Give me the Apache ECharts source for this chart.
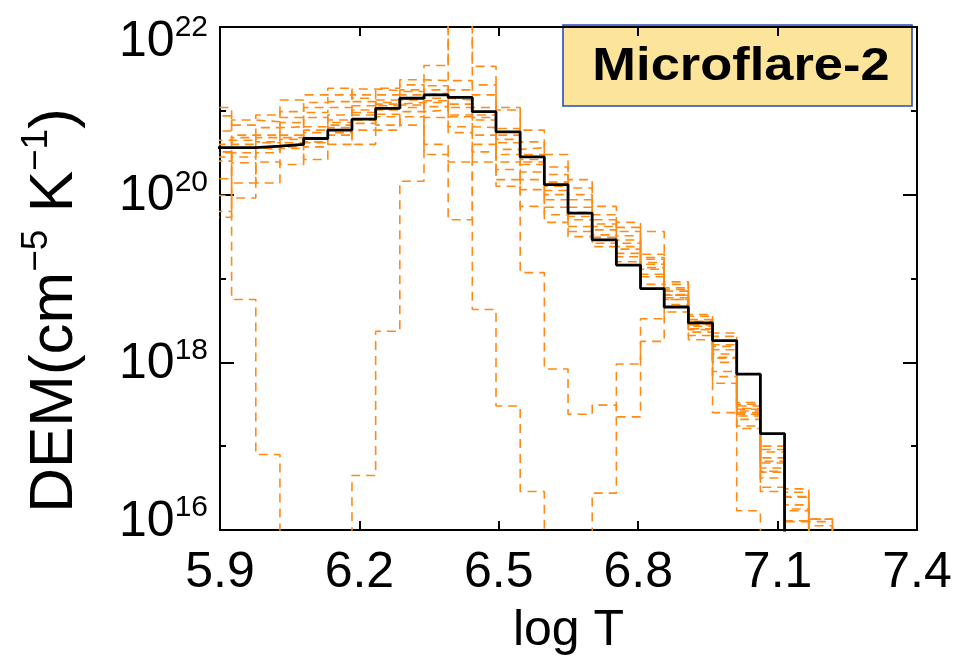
<!DOCTYPE html>
<html>
<head>
<meta charset="utf-8">
<script src="https://cdn.jsdelivr.net/npm/echarts@6/dist/echarts.min.js"></script>
<style>
  html, body { margin: 0; padding: 0; background: #fff; }
  #chart { width: 960px; height: 660px; }
</style>
</head>
<body>
<div id="chart"></div>
<script>
// log T bin edges of the DEM histogram
const binEdges = [5.873, 5.925, 5.977, 6.029, 6.080, 6.132, 6.184, 6.235, 6.287, 6.339, 6.391, 6.443, 6.494, 6.546,
  6.598, 6.649, 6.701, 6.753, 6.805, 6.856, 6.908, 6.960, 7.012, 7.063, 7.115, 7.167, 7.218, 7.270];

// log10 DEM per bin. 15 = below the axis, 23 = above it
const bestFitDEM = [20.56, 20.56, 20.58, 20.60, 20.67, 20.77, 20.90, 21.03, 21.15, 21.19, 21.16, 20.99, 20.75, 20.45,
  20.12, 19.78, 19.46, 19.16, 18.88, 18.66, 18.47, 18.26, 17.86, 17.15];

// Monte Carlo realisations (orange dashed)
const mcRun01 = [20.76, 20.89, 20.87, 21.13, 21.19, 21.19, 21.26, 21.24, 21.37, 21.36, 21.36, 21.31, 21.04, 20.77, 20.48, 20.18, 19.86, 19.67, 19.56, 18.96, 18.57, 18.35, 17.52, 17.00, 16.49, 16.13, 15];
const mcRun02 = [21.04, 20.83, 20.95, 20.92, 21.10, 21.27, 21.15, 21.27, 21.31, 21.25, 21.25, 21.19, 20.79, 20.63, 20.33, 20.08, 19.76, 19.56, 19.29, 18.93, 18.55, 18.31, 17.50, 16.96, 16.45, 16.13, 15];
const mcRun03 = [20.60, 20.71, 20.71, 20.99, 21.04, 21.04, 21.19, 21.19, 21.23, 21.30, 21.04, 21.04, 20.71, 20.48, 20.24, 19.94, 19.70, 19.61, 19.25, 18.89, 18.51, 18.19, 17.48, 16.93, 16.40, 16.10, 15];
const mcRun04 = [20.65, 20.65, 20.80, 20.81, 20.98, 21.11, 21.06, 21.13, 21.25, 21.15, 21.13, 20.95, 20.54, 20.56, 20.10, 20.00, 19.62, 19.51, 19.23, 18.87, 18.46, 18.21, 17.44, 16.86, 16.39, 16.05, 15];
const mcRun05 = [20.50, 20.68, 20.63, 20.86, 20.81, 20.95, 21.11, 21.06, 21.19, 21.21, 20.93, 20.89, 20.62, 20.36, 20.15, 19.85, 19.65, 19.42, 19.19, 18.81, 18.49, 18.06, 17.42, 16.82, 16.25, 15, 15];
const mcRun06 = [20.51, 20.60, 20.68, 20.68, 20.92, 20.83, 21.01, 21.10, 21.04, 21.10, 20.95, 20.71, 20.48, 20.39, 19.94, 19.79, 19.52, 19.46, 19.17, 18.85, 18.39, 18.15, 17.38, 16.74, 16.23, 15, 15];
const mcRun07 = [20.19, 20.56, 20.54, 20.71, 20.62, 20.89, 20.89, 21.01, 21.13, 20.92, 20.81, 20.80, 20.30, 20.27, 20.00, 19.62, 19.58, 19.35, 19.13, 18.75, 18.43, 17.89, 17.36, 16.69, 16.11, 15, 15];
const mcRun08 = [19.99, 20.14, 20.57, 20.57, 20.77, 20.71, 20.95, 20.83, 20.99, 21.01, 20.74, 20.51, 20.39, 20.06, 19.85, 19.74, 19.46, 19.38, 19.02, 18.77, 18.32, 18.00, 17.24, 16.62, 16.10, 15, 15];
const mcRun09 = [19.80, 20.38, 20.14, 20.62, 20.42, 20.80, 20.60, 20.93, 20.83, 20.60, 20.39, 20.60, 20.10, 20.18, 19.67, 19.56, 19.49, 19.20, 19.11, 18.60, 18.36, 17.75, 17.32, 16.51, 15, 15, 15];
const mcRun10 = [19.73, 19.96, 20.39, 20.36, 20.57, 20.60, 20.77, 20.77, 20.93, 20.48, 19.70, 20.39, 20.18, 19.86, 19.76, 19.50, 19.38, 19.26, 18.93, 18.69, 18.27, 17.83, 17.21, 16.46, 15, 15, 15];
const mcRun11 = [20.94, 18.75, 16.90, 15, 15, 15, 15, 15, 15, 15, 15, 15, 15, 15, 15, 15, 16.44, 17.98, 18.25, 18.75, 18.45, 18.10, 17.40, 16.80, 16.30, 15, 15];
const mcRun12 = [15, 15, 15, 15, 15, 15, 16.65, 18.37, 20.16, 21.54, 23, 21.53, 21.01, 19.07, 17.92, 17.38, 17.49, 17.35, 18.52, 18.80, 18.45, 18.05, 17.45, 16.70, 15, 15, 15];
const mcRun13 = [20.45, 20.50, 20.62, 20.66, 20.74, 20.86, 20.98, 21.08, 21.10, 21.05, 23, 18.63, 17.48, 16.46, 15, 15, 15, 15, 15, 15, 15, 15, 15, 15, 15, 15, 15];
const mcRun14 = [20.40, 20.45, 20.50, 20.55, 20.63, 20.74, 20.85, 20.96, 21.07, 21.12, 21.08, 20.92, 20.66, 20.42, 20.05, 19.70, 19.42, 19.30, 19.05, 18.80, 18.40, 17.40, 16.23, 15, 15, 15, 15];

const mcRuns = [mcRun01, mcRun02, mcRun03, mcRun04, mcRun05, mcRun06, mcRun07, mcRun08, mcRun09, mcRun10,
  mcRun11, mcRun12, mcRun13, mcRun14];

const xTickLabels = [5.9, 6.2, 6.5, 6.8, 7.1, 7.4];
const xTicks = [6.2, 6.5, 6.8, 7.1];
const yTickLabels = [16, 18, 20, 22];

const FONT = 'Liberation Sans, Arial, Helvetica, sans-serif';

// histogram -> points for a step:'end' line, closed down below the axis
function stepData(vals) {
  const pts = vals.map((v, i) => [binEdges[i], v]);
  const n = vals.length;
  pts.push([binEdges[n], vals[n - 1]]);
  pts.push([binEdges[n], 15]);
  return pts;
}

const chart = echarts.init(document.getElementById('chart'), null, { renderer: 'canvas' });

const series = mcRuns.map((run, k) => ({
  type: 'line',
  step: 'end',
  data: stepData(run),
  symbol: 'none',
  clip: true,
  z: 2,
  lineStyle: { color: '#ff8a14', width: 1.6, type: [9, 6], dashOffset: k * 3 }
}));
series.push({
  type: 'line',
  step: 'end',
  data: stepData(bestFitDEM),
  symbol: 'none',
  clip: true,
  z: 5,
  lineStyle: { color: '#000', width: 2.8 }
});

const tickStyle = { color: '#000', width: 2 };

// superscript: raised by bottom padding; end labels nudged inside the frame
const supRich = {
  b: { fontSize: 50, fontFamily: FONT, color: '#000', verticalAlign: 'bottom' },
  e: { fontSize: 30, fontFamily: FONT, color: '#000', verticalAlign: 'bottom', padding: [0, 0, 24, 0] },
  bt: { fontSize: 50, fontFamily: FONT, color: '#000', verticalAlign: 'bottom', padding: [26, 0, 0, 0] },
  et: { fontSize: 30, fontFamily: FONT, color: '#000', verticalAlign: 'bottom', padding: [26, 0, 24, 0] },
  bb: { fontSize: 50, fontFamily: FONT, color: '#000', verticalAlign: 'bottom', padding: [0, 0, 20, 0] },
  eb: { fontSize: 30, fontFamily: FONT, color: '#000', verticalAlign: 'bottom', padding: [0, 0, 44, 0] }
};

function yAxisCfg(pos, interval, len, labels) {
  return {
    type: 'value', position: pos, min: 16, max: 22, interval: interval,
    axisLine: { show: true, lineStyle: tickStyle },
    axisTick: { show: true, inside: true, length: len, lineStyle: tickStyle },
    splitLine: { show: false },
    axisLabel: labels ? {
      show: true, margin: 12, fontFamily: FONT,
      formatter: v => {
        if (!yTickLabels.includes(v)) return '';
        const k = v === 22 ? 't' : (v === 16 ? 'b' : '');
        return '{b' + k + '|10}{e' + k + '|' + v + '}';
      },
      rich: supRich
    } : { show: false }
  };
}

const yLeft = yAxisCfg('left', 2, 14, true);
yLeft.name = '{a|DEM(cm}{s|−5}{a| K}{s|−1}{a|)}';
yLeft.nameLocation = 'middle';
yLeft.nameRotate = 90;
yLeft.nameGap = 134;
yLeft.nameTextStyle = {
  padding: [0, 64, 0, 0],
  rich: {
    a: { fontSize: 62, fontFamily: FONT, color: '#000', verticalAlign: 'bottom' },
    s: { fontSize: 37, fontFamily: FONT, color: '#000', verticalAlign: 'bottom', padding: [0, 0, 31, 0] }
  }
};

chart.setOption({
  animation: false,
  backgroundColor: '#fff',
  grid: { left: 220, right: 43, top: 27, bottom: 130, show: false, containLabel: false, outerBoundsMode: 'none' },
  xAxis: [
    {
      type: 'value', position: 'bottom', min: 5.9, max: 7.4,
      axisLine: { show: true, lineStyle: tickStyle },
      axisTick: { show: true, inside: true, length: 9, lineStyle: tickStyle, customValues: xTicks },
      splitLine: { show: false },
      axisLabel: {
        customValues: xTickLabels, fontSize: 50, fontFamily: FONT, color: '#000', margin: 18,
        formatter: v => v.toFixed(1)
      },
      name: 'log T', nameLocation: 'middle', nameGap: 76,
      nameTextStyle: { fontSize: 50, fontFamily: FONT, color: '#000' }
    },
    {
      type: 'value', position: 'top', min: 5.9, max: 7.4,
      axisLine: { show: true, lineStyle: tickStyle },
      axisTick: { show: true, inside: true, length: 9, lineStyle: tickStyle, customValues: xTicks },
      splitLine: { show: false },
      axisLabel: { show: false }
    }
  ],
  yAxis: [
    yLeft,
    yAxisCfg('left', 1, 6, false),
    yAxisCfg('right', 2, 14, false),
    yAxisCfg('right', 1, 6, false)
  ],
  series: series,
  graphic: [{
    type: 'group', z: 100,
    children: [
      { type: 'rect', shape: { x: 563, y: 25, width: 349, height: 81 },
        style: { fill: '#fde49b', stroke: '#2a4bb3', lineWidth: 1.6 } },
      { type: 'text', x: 741, y: 67, scaleX: 1.14, originX: 0, originY: 0,
        style: { text: 'Microflare-2', font: 'bold 46px ' + FONT, fill: '#000',
          textAlign: 'center', textVerticalAlign: 'middle' } }
    ]
  }]
});
</script>
</body>
</html>
